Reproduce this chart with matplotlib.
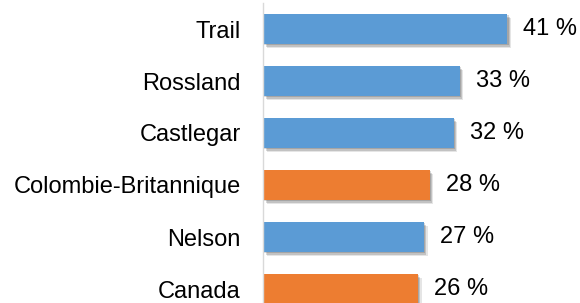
import matplotlib
matplotlib.use("Agg")
import matplotlib.pyplot as plt
import matplotlib.patheffects as pe

categories = ["Trail", "Rossland", "Castlegar", "Colombie-Britannique", "Nelson", "Canada"]
values = [41, 33, 32, 28, 27, 26]
is_reference = [False, False, False, True, False, True]

BLUE = "#5B9BD5"
ORANGE = "#ED7D31"

W, H = 580, 303
dpi = 100
fig = plt.figure(figsize=(W / dpi, H / dpi), dpi=dpi)
plt.rcParams["font.family"] = ["Liberation Sans", "DejaVu Sans"]

left_px, top_px = 263, 3
ax = fig.add_axes([left_px / W, 0, (W - left_px) / W, (H - top_px) / H])

px_per_unit = 5.96
xmax = (W - left_px) / px_per_unit
pitch = 52.0
ax.set_xlim(0, xmax)
ax.set_ylim((H - 29) / pitch, -0.5)

colors = [ORANGE if r else BLUE for r in is_reference]
ypos = list(range(len(categories)))
bars = ax.barh(ypos, values, height=30 / pitch, color=colors, zorder=3)
for b in bars:
    b.set_path_effects([
        pe.SimplePatchShadow(offset=(2.6, -2.6), shadow_rgbFace="#000000", alpha=0.10),
        pe.SimplePatchShadow(offset=(1.8, -1.8), shadow_rgbFace="#000000", alpha=0.15),
        pe.SimplePatchShadow(offset=(1.0, -1.0), shadow_rgbFace="#000000", alpha=0.15),
        pe.Normal(),
    ])
    b.set_clip_on(False)

for y, v in zip(ypos, values):
    ax.annotate(f"{v} %", xy=(v, y), xytext=(11.5, 0), textcoords="offset points",
                ha="left", va="center", fontsize=17, color="#000000")

ax.set_yticks(ypos)
ax.set_yticklabels(categories, fontsize=17)
ax.tick_params(axis="y", length=0, pad=16)
ax.set_xticks([])
for s in ["top", "right", "bottom"]:
    ax.spines[s].set_visible(False)
ax.spines["left"].set_color("#D9D9D9")
ax.spines["left"].set_linewidth(1.0)
ax.spines["left"].set_zorder(4)

fig.savefig("out.png", dpi=dpi)
